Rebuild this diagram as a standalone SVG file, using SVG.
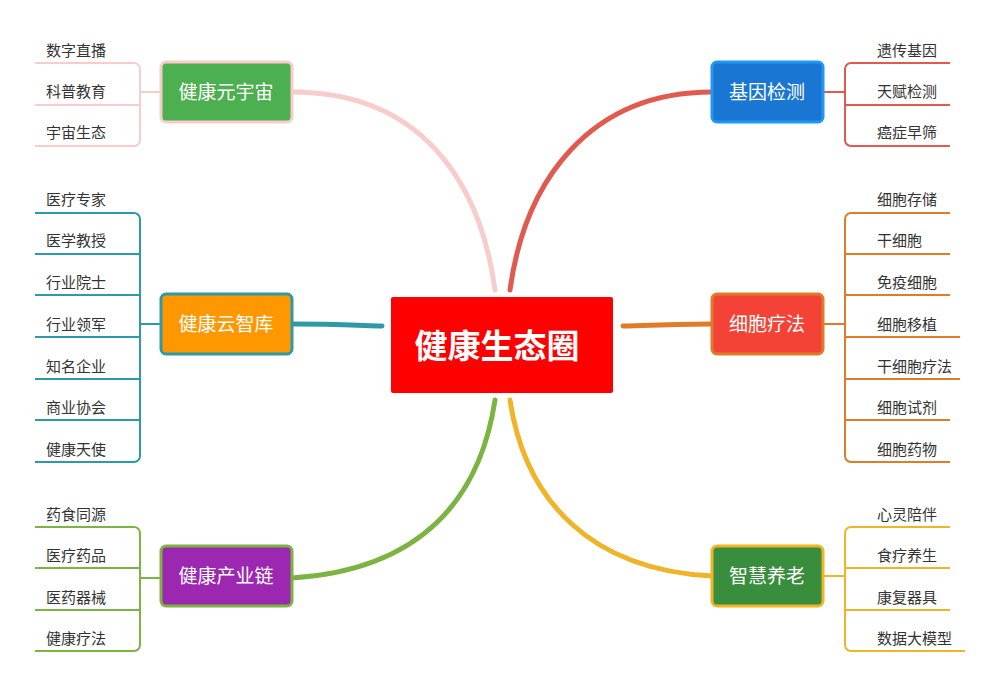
<svg xmlns="http://www.w3.org/2000/svg" width="1000" height="690" viewBox="0 0 1000 690">
<style>
text{font-family:"Noto Sans CJK SC","Liberation Sans",sans-serif}
.leaf{font-size:15px;fill:#333}
.nt{font-size:19px;fill:#fff;text-anchor:middle}
.b{fill:none;stroke-width:2;stroke-linejoin:round}
.m{fill:none;stroke-width:5;stroke-linecap:round}
</style>
<rect width="1000" height="690" fill="#fff"/>
<g id="connectors">
<path class="m" stroke="#f9cccc" d="M292,92 C420,92 480,180 495,290"/>
<path class="m" stroke="#e05a4f" d="M712,92 C590,92 525,180 510,290"/>
<path class="m" stroke="#2e9aa8" d="M292,324 C330,324 350,325 382,326"/>
<path class="m" stroke="#e07b2a" d="M623,326 C660,325 680,324 712,324"/>
<path class="m" stroke="#7cb342" d="M292,578 C420,570 480,500 495,400"/>
<path class="m" stroke="#f0b429" d="M712,576 C590,570 525,500 510,400"/>
<g stroke="#f9cccc" class="b"><path d="M35,63 H134 a6,6 0 0 1 6,6 V140 a6,6 0 0 1 -6,6 H35 M35,105 H140 M140,92 H161"/></g>
<g stroke="#2e9aa8" class="b"><path d="M35,213 H134 a6,6 0 0 1 6,6 V456 a6,6 0 0 1 -6,6 H35 M35,254 H140 M35,295 H140 M35,337 H140 M35,379 H140 M35,420 H140 M140,324 H161"/></g>
<g stroke="#7cb342" class="b"><path d="M35,527 H134 a6,6 0 0 1 6,6 V645 a6,6 0 0 1 -6,6 H35 M35,568 H140 M35,610 H140 M140,578 H161"/></g>
<g stroke="#e05a4f" class="b"><path d="M950,63 H851 a6,6 0 0 0 -6,6 V140 a6,6 0 0 0 6,6 H950 M950,105 H845 M845,92 H823"/></g>
<g stroke="#e07b2a" class="b"><path d="M950,213 H851 a6,6 0 0 0 -6,6 V456 a6,6 0 0 0 6,6 H950 M950,254 H845 M950,295 H845 M960,337 H845 M960,379 H845 M950,420 H845 M845,324 H823"/></g>
<g stroke="#f0b429" class="b"><path d="M950,527 H851 a6,6 0 0 0 -6,6 V645 a6,6 0 0 0 6,6 H965 M950,568 H845 M950,610 H845 M845,576 H823"/></g>
</g>
<g id="center"><rect x="391" y="297" width="222" height="96" rx="2" fill="#ff0000"/><text x="497" y="358" font-size="33" font-weight="bold" fill="#fff" text-anchor="middle" style="font-size:33px">健康生态圈</text></g>
<g id="n1"><rect x="161" y="62" width="131" height="60" rx="5" fill="#4caf50" stroke="#f9cccc" stroke-width="3"/><text class="nt" x="226" y="99">健康元宇宙</text></g>
<g id="n2"><rect x="161" y="294" width="131" height="60" rx="5" fill="#ff9800" stroke="#2e9aa8" stroke-width="3"/><text class="nt" x="226" y="331">健康云智库</text></g>
<g id="n3"><rect x="161" y="546" width="131" height="60" rx="5" fill="#9c27b0" stroke="#7cb342" stroke-width="3"/><text class="nt" x="226" y="583">健康产业链</text></g>
<g id="n4"><rect x="712" y="62" width="111" height="60" rx="5" fill="#1976d2" stroke="#2196f3" stroke-width="3"/><text class="nt" x="767" y="99">基因检测</text></g>
<g id="n5"><rect x="712" y="294" width="111" height="60" rx="5" fill="#f44336" stroke="#e07b2a" stroke-width="3"/><text class="nt" x="767" y="331">细胞疗法</text></g>
<g id="n6"><rect x="712" y="546" width="111" height="60" rx="5" fill="#388e3c" stroke="#f0b429" stroke-width="3"/><text class="nt" x="767" y="583">智慧养老</text></g>
<g id="leaves">
<text class="leaf" x="46" y="56">数字直播</text><text class="leaf" x="46" y="97">科普教育</text><text class="leaf" x="46" y="138">宇宙生态</text>
<text class="leaf" x="46" y="205">医疗专家</text><text class="leaf" x="46" y="246">医学教授</text><text class="leaf" x="46" y="288">行业院士</text><text class="leaf" x="46" y="330">行业领军</text><text class="leaf" x="46" y="372">知名企业</text><text class="leaf" x="46" y="413">商业协会</text><text class="leaf" x="46" y="455">健康天使</text>
<text class="leaf" x="46" y="520">药食同源</text><text class="leaf" x="46" y="561">医疗药品</text><text class="leaf" x="46" y="603">医药器械</text><text class="leaf" x="46" y="644">健康疗法</text>
<text class="leaf" x="877" y="56">遗传基因</text><text class="leaf" x="877" y="97">天赋检测</text><text class="leaf" x="877" y="138">癌症早筛</text>
<text class="leaf" x="877" y="205">细胞存储</text><text class="leaf" x="877" y="246">干细胞</text><text class="leaf" x="877" y="288">免疫细胞</text><text class="leaf" x="877" y="330">细胞移植</text><text class="leaf" x="877" y="372">干细胞疗法</text><text class="leaf" x="877" y="413">细胞试剂</text><text class="leaf" x="877" y="455">细胞药物</text>
<text class="leaf" x="877" y="520">心灵陪伴</text><text class="leaf" x="877" y="561">食疗养生</text><text class="leaf" x="877" y="603">康复器具</text><text class="leaf" x="877" y="644">数据大模型</text>
</g>
</svg>
